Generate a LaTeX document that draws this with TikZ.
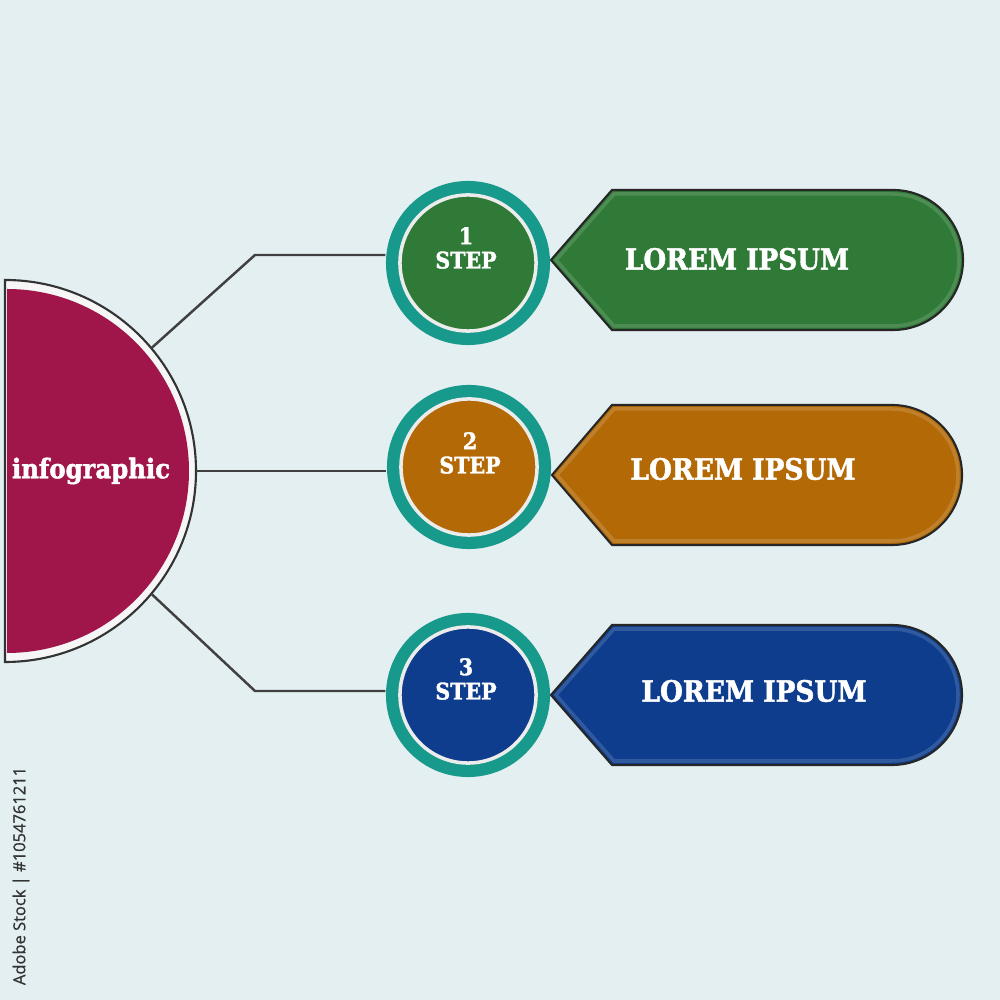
\documentclass[tikz,border=0pt]{standalone}
\usepackage{fontspec}
\newfontfamily\slab{DejaVu Serif Condensed}[BoldFeatures={FakeBold=1.6}]
\newfontfamily\wmfont{Open Sans}[FakeBold=0.8]
\usetikzlibrary{calc}
\definecolor{bgc}{HTML}{E3EFF1}
\definecolor{stepgreen}{HTML}{2F7A37}
\definecolor{steporange}{HTML}{B36A06}
\definecolor{stepblue}{HTML}{0E3D8D}
\definecolor{ringteal}{HTML}{179A8C}
\definecolor{crimson}{HTML}{A0164A}
\newcommand{\fitw}[2]{\resizebox{#1}{!}{#2}}
\tikzset{
  conn/.style={draw=black!75, line width=0.7pt},
  ringnode/.style={circle, fill=ringteal, minimum size=1.64cm, inner sep=0pt},
  disc/.style={circle, minimum size=1.36cm, inner sep=0pt, draw=white!85!gray, line width=1pt},
  tagshape/.style={draw=black!85, line width=0.6pt},
  steplbl/.style={text=white, align=center, font=\slab\bfseries\fontsize{6.5}{6.9}\selectfont, inner sep=0pt},
  taglbl/.style={text=white, font=\slab\bfseries, inner sep=0pt}
}
\begin{document}
\begin{tikzpicture}[x=0.01cm,y=0.01cm]
\fill[bgc] (0,0) rectangle (1000,1000);
\useasboundingbox (0,0) rectangle (1000,1000);

% hub half disc
\coordinate (hub) at (5,529);
\draw[draw=black!80, line width=0.6pt, fill=white!93!gray] (5,338) arc[start angle=-90,end angle=90,radius=191] -- cycle;
\fill[crimson] (7,347) arc[start angle=-90,end angle=90,radius=182] -- cycle;
\node[taglbl] (hubtxt) at (91,529) {\fitw{1.58cm}{infographic}};

% step circles
\node[ringnode] (c1) at (468,737) {};
\node[disc, fill=stepgreen] (d1) at (c1) {};
\node[steplbl] (s1) at (466,752) {1\\STEP};

\node[ringnode] (c2) at (469,533) {};
\node[disc, fill=steporange] (d2) at (c2) {};
\node[steplbl] (s2) at (470,547) {2\\STEP};

\node[ringnode] (c3) at (468,305) {};
\node[disc, fill=stepblue] (d3) at (c3) {};
\node[steplbl] (s3) at (466,321) {3\\STEP};

% connectors
\coordinate (b1) at (255,745);
\coordinate (b3) at (255,309);
\coordinate (a1) at ([shift={(40:191)}]hub);
\coordinate (a3) at ([shift={(-40:191)}]hub);
\coordinate (a2) at ([shift={(0:191)}]hub);
\draw[conn] (a1) -- (b1) -- (b1 -| c1.west);
\draw[conn] (a2) -- (a2 -| c2.west);
\draw[conn] (a3) -- (b3) -- (b3 -| c3.west);

% tags
\draw[tagshape, fill=stepgreen] (551,740) -- (612,810) -- (893,810) arc[start angle=90,end angle=-90,radius=70] -- (612,670) -- cycle;
\draw[white, opacity=0.15, line width=1pt] (556,740) -- (614,806) -- (893,806) arc[start angle=90,end angle=-90,radius=66] -- (614,674) -- cycle;
\node[taglbl] (t1) at (737,741) {\fitw{2.24cm}{LOREM IPSUM}};

\draw[tagshape, fill=steporange] (552,525) -- (612,595) -- (892,595) arc[start angle=90,end angle=-90,radius=70] -- (612,455) -- cycle;
\draw[white, opacity=0.15, line width=1pt] (557,525) -- (614,591) -- (892,591) arc[start angle=90,end angle=-90,radius=66] -- (614,459) -- cycle;
\node[taglbl] (t2) at (743,531) {\fitw{2.25cm}{LOREM IPSUM}};

\draw[tagshape, fill=stepblue] (551,305) -- (612,375) -- (892,375) arc[start angle=90,end angle=-90,radius=70] -- (612,235) -- cycle;
\draw[white, opacity=0.15, line width=1pt] (556,305) -- (614,371) -- (892,371) arc[start angle=90,end angle=-90,radius=66] -- (614,239) -- cycle;
\node[taglbl] (t3) at (754,309) {\fitw{2.25cm}{LOREM IPSUM}};

% vertical credit text
\node[rotate=90, text=black!80, inner sep=0pt] (wm) at (21,124) {\fitw{2.18cm}{\wmfont Adobe Stock | \#1054761211}};
\end{tikzpicture}
\end{document}
